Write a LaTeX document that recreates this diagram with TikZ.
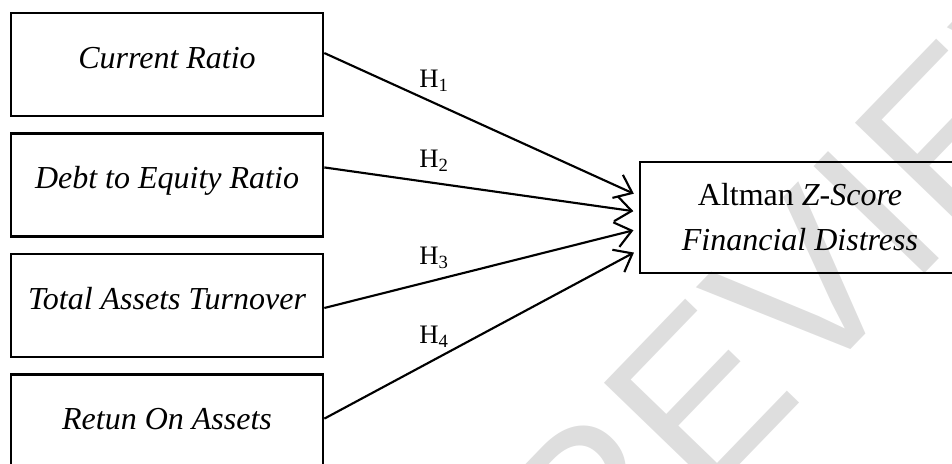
\documentclass[tikz,border=0pt,12pt]{standalone}
\usepackage{fontspec}
\setmainfont{Liberation Serif}
\setsansfont{Liberation Sans}
\usepackage{xcolor}
\definecolor{pale-gray}{HTML}{DEDEDE}
\usepackage{tikz}
\usetikzlibrary{positioning}
\usetikzlibrary{arrows.meta}
\tikzset{box/.style = {draw, line width=1pt, minimum width=117pt, minimum height=38.6pt, align=center, text height=8.5pt, text depth=5.7pt, font=\itshape}}
\tikzset{result/.style = {draw, line width=1pt, minimum width=120pt, minimum height=41.6pt, align=center}}
\tikzset{stamp/.style = {text=pale-gray, font=\fontsize{84}{84}\selectfont\sffamily}}
\tikzset{arr/.style = {line width=.8pt, shorten >=2pt, -{Straight Barb[length=6pt, width=9.5pt, line width=.8pt]}}}
\tikzset{hyp/.style = {font=\fontsize{10}{12}\selectfont}}

\begin{document}
\begin{tikzpicture}[x=.375pt, y=-.375pt,
  node distance = 5.6pt
]
\useasboundingbox (0,0) rectangle (952,463);
\clip (0,0) rectangle (952,463);

% watermark behind the boxes
\node[stamp, rotate=46] (wm) at (842,248) {REVIEW};

\node[box] (b1) at (167,64.5) {Current Ratio};
\node[box, below=of b1] (b2) {Debt to Equity Ratio};
\node[box, below=of b2] (b3) {Total Assets Turnover};
\node[box, below=of b3] (b4) {Retun On Assets};
\node[result] (b5) at (800,217.5) {
  Altman \textit{Z-Score}\\[2.4pt]
  \textit{Financial Distress}
};

\draw[arr]  ([yshift=4.3pt]b1.east) -- ([yshift=8.1pt]b5.west) node[hyp, pos=.35, above]{H\textsubscript{1}};
\draw[arr]  ([yshift=6.6pt]b2.east) -- ([yshift=2.1pt]b5.west) node[hyp, pos=.35, above]{H\textsubscript{2}};
\draw[arr]  ([yshift=-.9pt]b3.east) -- ([yshift=-4.3pt]b5.west) node[hyp, pos=.35, above]{H\textsubscript{3}};
\draw[arr]  ([yshift=2.8pt]b4.east) -- ([yshift=-12.2pt]b5.west) node[hyp, pos=.35, above]{H\textsubscript{4}};

\end{tikzpicture}
\end{document}
